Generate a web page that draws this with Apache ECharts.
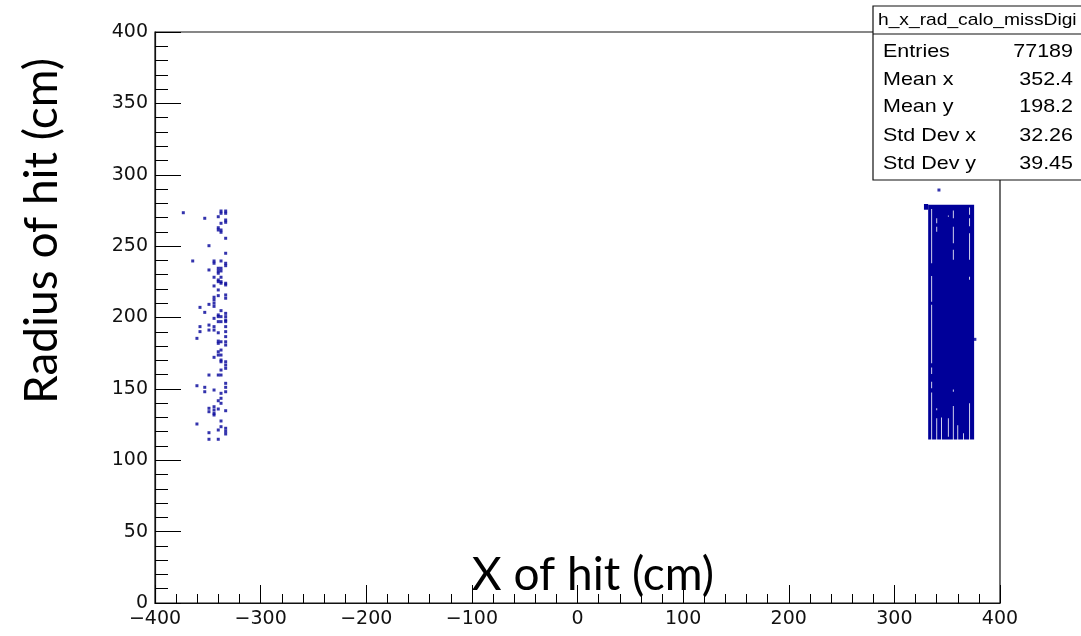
<!DOCTYPE html>
<html>
<head>
<meta charset="utf-8">
<script src="https://cdn.jsdelivr.net/npm/echarts@6/dist/echarts.min.js"></script>
<style>
  html, body { margin: 0; padding: 0; background: #fff; }
  #chart { width: 1081px; height: 636px; }
</style>
</head>
<body>
<div id="chart"></div>
<script>
// Hits of h_x_rad_calo_missDigi: X position vs radius (cm)

// Sparse hits on the negative-X side, grouped by X column
const leftColX = [-373.2, -364.3, -360.3, -357.4, -352.9, -348.9, -344.1, -340.1, -337.5, -333.1];
const leftColY = [
  [273.4],
  [239.6],
  [185.4, 152.2, 125.4],
  [207.1, 193.6, 190.1],
  [269.5, 203.6, 151.1, 148.0],
  [250.3, 233.3, 209.2, 194.7, 191.2, 159.7, 136.4, 134.0, 119.3, 114.7],
  [239.6, 238.0, 228.2, 222.1, 214.2, 212.3, 210.0, 207.8, 199.4, 193.6, 191.2, 172.1, 149.2, 137.5, 135.2, 132.9, 131.7],
  [270.6, 262.9, 261.3, 234.5, 232.6, 231.0, 226.3, 225.1, 219.3, 215.3, 201.8, 200.6, 197.1, 189.3, 183.5, 181.9, 176.0, 173.7, 159.7, 141.7, 135.9, 121.2, 114.7],
  [274.6, 273.0, 266.0, 261.3, 259.7, 239.6, 234.5, 232.6, 228.2, 225.1, 224.0, 204.8, 200.6, 197.1, 183.0, 177.2, 173.7, 170.2, 169.0, 163.2, 159.7, 146.9, 143.4, 139.9, 127.5, 123.5],
  [274.6, 273.0, 268.3, 266.7, 255.5, 245.0, 238.0, 236.3, 224.0, 222.8, 215.8, 213.5, 202.9, 200.6, 198.2, 197.1, 193.6, 190.1, 186.6, 183.0, 180.7, 169.0, 166.7, 164.4, 153.9, 151.1, 148.0, 134.7, 122.4, 120.3, 118.4]
];

// Densely filled region on the positive-X side: [xLow, xHigh, yLow, yHigh]
const denseRegions = [
  [332.0, 375.5, 114.5, 279.0],
  [328.0, 332.0, 275.5, 279.5]
];

// Empty bin strips inside the dense region: [x, yHigh, yLow]
const emptyStrips = [
  [335.3, 276, 238], [335.3, 229, 211], [335.3, 209, 168], [335.3, 165, 160.5], [335.3, 155, 150.5], [335.3, 147.5, 114],
  [340.1, 269.5, 266], [340.1, 263.6, 260], [340.1, 136.5, 135], [340.1, 129.5, 114],
  [344.6, 130, 114],
  [351.1, 271.5, 270.5], [351.1, 129.5, 116.5],
  [355.8, 275, 269.5], [355.8, 263.5, 252], [355.8, 247.5, 240.5], [355.8, 149.5, 148], [355.8, 138, 114],
  [360.0, 124.5, 114],
  [365.5, 119, 114],
  [371.2, 277, 272], [371.2, 269.5, 264], [371.2, 259, 240.5], [371.2, 228.5, 226.5], [371.2, 140, 114]
];

// Isolated hits near the dense region
const strayHits = [[342.2, 289.3], [376.2, 184.7]];

// Statistics box
const statsTitle = 'h_x_rad_calo_missDigi';
const statsLabels = ['Entries', 'Mean x', 'Mean y', 'Std Dev x', 'Std Dev y'];
const statsValues = ['77189', '352.4', '198.2', '32.26', '39.45'];

const xTitle = 'X of hit (cm)';
const yTitle = 'Radius of hit (cm)';

const leftHits = [];
leftColX.forEach((x, i) => leftColY[i].forEach(y => leftHits.push([x, y])));

const HIT_COLOR = '#000099';
const ROOT_FONT = 'Liberation Sans';
const TICK_FONT = 'DejaVu Sans';
const FRAME_COLOR = '#111';

const chart = echarts.init(document.getElementById('chart'), null, { renderer: 'canvas' });

const statsRowY = [52, 80, 107, 136, 164];
const statsGraphics = [
  {
    type: 'rect', z: 100,
    shape: { x: 873, y: 6, width: 240, height: 174 },
    style: { fill: '#fff', stroke: FRAME_COLOR, lineWidth: 1.2 }
  },
  {
    type: 'line', z: 101,
    shape: { x1: 873, y1: 34, x2: 1090, y2: 34 },
    style: { stroke: FRAME_COLOR, lineWidth: 1.2 }
  },
  {
    type: 'text', z: 102, x: 878, y: 20, scaleX: 1.13,
    style: { text: statsTitle, fontSize: 17, fontFamily: ROOT_FONT, fill: '#000',
             align: 'left', verticalAlign: 'middle', textAlign: 'left', textVerticalAlign: 'middle' }
  }
];
statsLabels.forEach((lab, i) => {
  statsGraphics.push({
    type: 'text', z: 102, x: 883, y: statsRowY[i], scaleX: 1.13,
    style: { text: lab, fontSize: 19, fontFamily: ROOT_FONT, fill: '#000',
             align: 'left', verticalAlign: 'middle', textAlign: 'left', textVerticalAlign: 'middle' }
  });
  statsGraphics.push({
    type: 'text', z: 102, x: 1073, y: statsRowY[i], scaleX: 1.13,
    style: { text: statsValues[i], fontSize: 19, fontFamily: ROOT_FONT, fill: '#000',
             align: 'right', verticalAlign: 'middle', textAlign: 'right', textVerticalAlign: 'middle' }
  });
});

const minusFmt = v => String(v).replace('-', '\u2212');

const option = {
  animation: false,
  backgroundColor: '#fff',
  grid: {
    left: 155, right: 81, top: 32, bottom: 33,
    show: true, borderColor: FRAME_COLOR, borderWidth: 1.2, backgroundColor: '#fff'
  },
  xAxis: {
    type: 'value', min: -400, max: 400, interval: 100,
    axisLine: { show: true, onZero: false, lineStyle: { color: FRAME_COLOR, width: 1.2 } },
    axisTick: { show: true, inside: true, length: 18, lineStyle: { color: '#000', width: 1 } },
    minorTick: { show: true, splitNumber: 5, length: 9, lineStyle: { color: '#000', width: 1 } },
    splitLine: { show: false },
    axisLabel: { formatter: minusFmt, fontSize: 19, fontFamily: TICK_FONT, color: '#111', margin: 7 }
  },
  yAxis: {
    type: 'value', min: 0, max: 400, interval: 50,
    axisLine: { show: true, onZero: false, lineStyle: { color: FRAME_COLOR, width: 1.2 } },
    axisTick: { show: true, inside: true, length: 26, lineStyle: { color: '#000', width: 1 } },
    minorTick: { show: true, splitNumber: 5, length: 13, lineStyle: { color: '#000', width: 1 } },
    splitLine: { show: false },
    axisLabel: { fontSize: 19, fontFamily: TICK_FONT, color: '#111', margin: 7 }
  },
  series: [
    {
      name: 'dense',
      type: 'custom',
      data: denseRegions,
      encode: { x: [0, 1], y: [2, 3] },
      renderItem: (params, api) => {
        const p0 = api.coord([api.value(0), api.value(3)]);
        const p1 = api.coord([api.value(1), api.value(2)]);
        return {
          type: 'rect',
          shape: { x: p0[0], y: p0[1], width: p1[0] - p0[0], height: p1[1] - p0[1] },
          style: { fill: HIT_COLOR }
        };
      },
      z: 3
    },
    {
      name: 'empty',
      type: 'custom',
      data: emptyStrips,
      encode: { x: 0, y: [1, 2] },
      renderItem: (params, api) => {
        const top = api.coord([api.value(0), api.value(1)]);
        const bot = api.coord([api.value(0), api.value(2)]);
        return {
          type: 'rect',
          shape: { x: top[0] - 0.45, y: top[1], width: 0.9, height: bot[1] - top[1] },
          style: { fill: '#fff', opacity: 0.9 }
        };
      },
      z: 4
    },
    {
      name: 'hits',
      type: 'scatter',
      data: leftHits,
      symbol: 'rect',
      symbolSize: 3,
      itemStyle: { color: HIT_COLOR },
      z: 5
    },
    {
      name: 'stray',
      type: 'scatter',
      data: strayHits,
      symbol: 'rect',
      symbolSize: 3,
      itemStyle: { color: HIT_COLOR },
      z: 5
    }
  ],
  graphic: [
    {
      type: 'text', z: 90, x: 593, y: 575,
      style: { text: xTitle, fontSize: 46, fontFamily: 'Lato', fill: '#000',
               align: 'center', verticalAlign: 'middle', textAlign: 'center', textVerticalAlign: 'middle' }
    },
    {
      type: 'text', z: 90, x: 42, y: 231, rotation: Math.PI / 2,
      style: { text: yTitle, fontSize: 46, fontFamily: 'Lato', fill: '#000',
               align: 'center', verticalAlign: 'middle', textAlign: 'center', textVerticalAlign: 'middle' }
    }
  ].concat(statsGraphics)
};

chart.setOption(option);
</script>
</body>
</html>
